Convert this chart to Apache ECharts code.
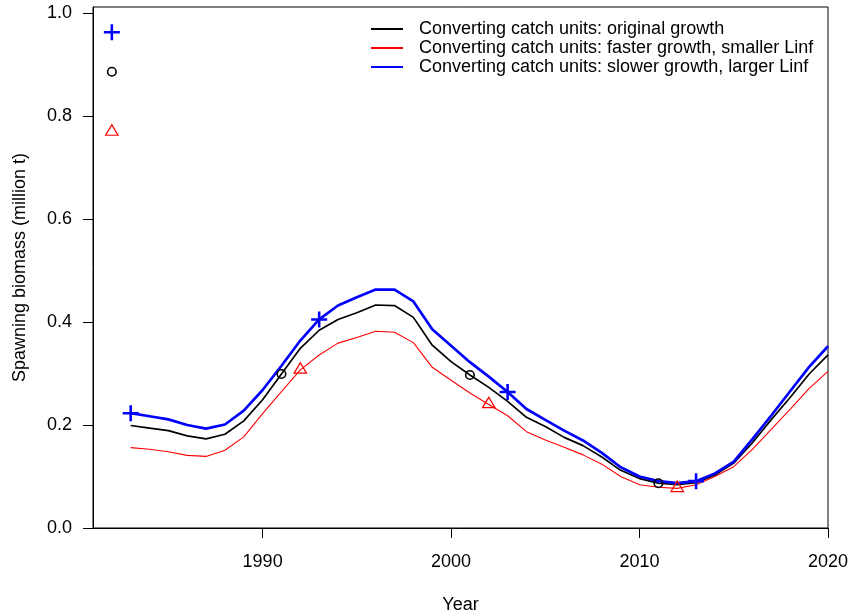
<!DOCTYPE html>
<html>
<head>
<meta charset="utf-8">
<style>
  html, body { margin: 0; padding: 0; background: #fff; }
  #chart { width: 849px; height: 616px; }
</style>
<script src="https://cdn.jsdelivr.net/npm/echarts@6/dist/echarts.min.js"></script>
</head>
<body>
<div id="chart"></div>
<script>
// Spawning biomass (million t) by year, 1983-2020, for three growth assumptions
const years = [1983, 1984, 1985, 1986, 1987, 1988, 1989, 1990, 1991, 1992,
               1993, 1994, 1995, 1996, 1997, 1998, 1999, 2000, 2001, 2002,
               2003, 2004, 2005, 2006, 2007, 2008, 2009, 2010, 2011, 2012,
               2013, 2014, 2015, 2016, 2017, 2018, 2019, 2020];

const originalGrowth = [0.199, 0.194, 0.189, 0.179, 0.173, 0.182, 0.208, 0.249, 0.299, 0.349,
                        0.384, 0.405, 0.418, 0.433, 0.432, 0.409, 0.355, 0.323, 0.297, 0.273,
                        0.246, 0.215, 0.197, 0.176, 0.160, 0.138, 0.112, 0.096, 0.087, 0.084,
                        0.088, 0.103, 0.126, 0.166, 0.211, 0.254, 0.299, 0.336];

const fasterGrowth = [0.156, 0.153, 0.148, 0.141, 0.139, 0.151, 0.177, 0.222, 0.265, 0.307,
                      0.336, 0.359, 0.370, 0.382, 0.380, 0.360, 0.312, 0.287, 0.262, 0.240,
                      0.218, 0.187, 0.171, 0.157, 0.142, 0.124, 0.100, 0.084, 0.079, 0.077,
                      0.084, 0.100, 0.119, 0.153, 0.192, 0.231, 0.271, 0.304];

const slowerGrowth = [0.223, 0.217, 0.211, 0.200, 0.193, 0.201, 0.228, 0.268, 0.315, 0.364,
                      0.405, 0.432, 0.448, 0.463, 0.463, 0.440, 0.386, 0.354, 0.322, 0.294,
                      0.264, 0.231, 0.210, 0.189, 0.170, 0.146, 0.118, 0.100, 0.091, 0.087,
                      0.091, 0.106, 0.129, 0.173, 0.219, 0.266, 0.313, 0.353];

// Unfished (virgin) spawning biomass, drawn at the left edge
const virginYear = 1982;
const virginOriginal = 0.886;
const virginFaster = 0.769;
const virginSlower = 0.9625;

// Years carrying a point symbol on each curve
const circleYears = [1991, 2001, 2011];
const triangleYears = [1992, 2002, 2012];
const plusYears = [1983, 1993, 2003, 2013];

const seriesNames = [
  'Converting catch units: original growth',
  'Converting catch units: faster growth, smaller Linf',
  'Converting catch units: slower growth, larger Linf'
];

const yTicks = [0, 0.2, 0.4, 0.6, 0.8, 1.0];
const xTicks = [1990, 2000, 2010, 2020];

const FONT = "'Liberation Sans', Arial, Helvetica, sans-serif";
const FS = 18;

function pairs(vals) {
  return years.map((y, i) => [y, vals[i]]);
}
function marks(vals, yrs, virgin) {
  const out = [[virginYear, virgin]];
  yrs.forEach(y => out.push([y, vals[years.indexOf(y)]]));
  return out;
}

const PLUS = 'path://M0,42H42V0H58V42H100V58H58V100H42V58H0Z';

const chart = echarts.init(document.getElementById('chart'), null, { renderer: 'canvas' });

chart.setOption({
  animation: false,
  backgroundColor: '#ffffff',
  textStyle: { fontFamily: FONT, color: '#000' },
  grid: {
    left: 93, right: 21, top: 7, bottom: 88,
    outerBoundsMode: 'none',
    containLabel: false,
    show: true, borderColor: '#000', borderWidth: 1, backgroundColor: 'transparent'
  },
  legend: {
    data: seriesNames,
    orient: 'vertical',
    left: 365,
    top: 15,
    padding: 5,
    itemWidth: 32,
    itemHeight: 19,
    itemGap: 1,
    selectedMode: false,
    itemStyle: { opacity: 0 },
    textStyle: { fontFamily: FONT, fontSize: FS, color: '#000', padding: [0, 0, 0, 11] }
  },
  xAxis: {
    type: 'value',
    min: 1981,
    max: 2020,
    name: 'Year',
    nameLocation: 'middle',
    nameGap: 68,
    nameTextStyle: { fontFamily: FONT, fontSize: FS, color: '#000' },
    axisLine: { show: true, lineStyle: { color: '#000', width: 1 } },
    axisTick: { show: true, length: 10, lineStyle: { color: '#000' }, customValues: xTicks },
    axisLabel: {
      customValues: xTicks, margin: 25, fontFamily: FONT, fontSize: FS, color: '#000',
      formatter: v => String(v)
    },
    splitLine: { show: false }
  },
  yAxis: {
    type: 'value',
    min: 0,
    max: 1.0117,
    name: 'Spawning biomass (million t)',
    nameLocation: 'middle',
    nameRotate: 90,
    nameGap: 64,
    nameTextStyle: { fontFamily: FONT, fontSize: FS, color: '#000' },
    axisLine: { show: true, lineStyle: { color: '#000', width: 1 } },
    axisTick: { show: true, length: 10, lineStyle: { color: '#000' }, customValues: yTicks },
    axisLabel: {
      customValues: yTicks, margin: 21, fontFamily: FONT, fontSize: FS, color: '#000',
      formatter: v => v.toFixed(1)
    },
    splitLine: { show: false }
  },
  series: [
    {
      name: seriesNames[0], type: 'line', data: pairs(originalGrowth),
      symbol: 'none', lineStyle: { color: '#000000', width: 1.7 }, itemStyle: { color: '#000000' }, z: 3
    },
    {
      name: seriesNames[1], type: 'line', data: pairs(fasterGrowth),
      symbol: 'none', lineStyle: { color: '#ff0000', width: 1.1 }, itemStyle: { color: '#ff0000' }, z: 2
    },
    {
      name: seriesNames[2], type: 'line', data: pairs(slowerGrowth),
      symbol: 'none', lineStyle: { color: '#0000ff', width: 2.7 }, itemStyle: { color: '#0000ff' }, z: 4
    },
    {
      type: 'scatter', data: marks(originalGrowth, circleYears, virginOriginal),
      symbol: 'circle', symbolSize: 8.5, z: 5,
      itemStyle: { color: 'rgba(0,0,0,0)', borderColor: '#000', borderWidth: 1.6, opacity: 1 }
    },
    {
      type: 'scatter', data: marks(fasterGrowth, triangleYears, virginFaster),
      symbol: 'triangle', symbolSize: [12.5, 10.5], symbolOffset: [0, -2], z: 5,
      itemStyle: { color: 'rgba(0,0,0,0)', borderColor: '#ff0000', borderWidth: 1.2, opacity: 1 }
    },
    {
      type: 'scatter', data: marks(slowerGrowth, plusYears, virginSlower),
      symbol: PLUS, symbolSize: 16, z: 6,
      itemStyle: { color: '#0000ff', opacity: 1 }
    }
  ]
});
</script>
</body>
</html>
